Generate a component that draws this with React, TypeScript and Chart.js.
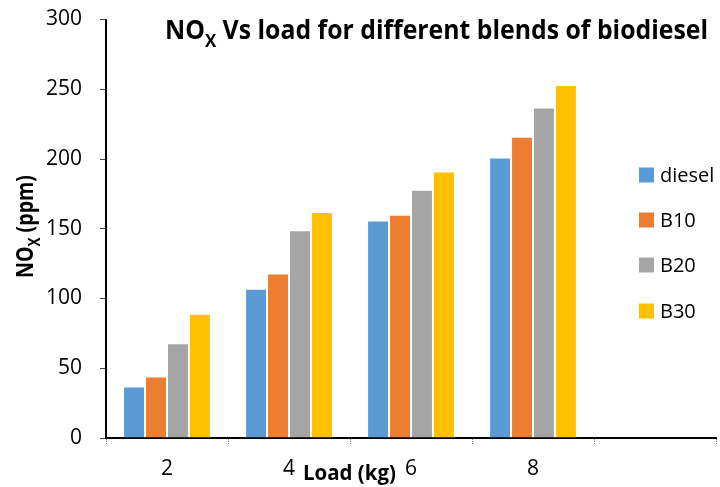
import React, { useEffect, useRef } from 'react';
import { Chart, registerables } from 'chart.js';

Chart.register(...registerables);

const categories = ['2', '4', '6', '8', ''];
const seriesNames = ['diesel', 'B10', 'B20', 'B30'];
const dieselValues = [37, 107, 156, 201, null];
const b10Values = [44, 118, 160, 216, null];
const b20Values = [68, 149, 178, 237, null];
const b30Values = [89, 162, 191, 253, null];
const seriesColors = ['#5B9BD5', '#ED7D31', '#A5A5A5', '#FFC000'];
const yMin = 0;
const yMax = 300;
const yStep = 50;

const FONT = '"Open Sans", "Liberation Sans", sans-serif';

type Part = { text: string; sub?: boolean };

function drawParts(
  ctx: CanvasRenderingContext2D,
  parts: Part[],
  size: number,
  targetWidth: number,
  bold: boolean
) {
  const subSize = size * 0.68;
  const widths = parts.map((p) => {
    ctx.font = `${bold ? 'bold ' : ''}${p.sub ? subSize : size}px ${FONT}`;
    return ctx.measureText(p.text).width;
  });
  const total = widths.reduce((a, b) => a + b, 0);
  const s = targetWidth / total;
  ctx.save();
  ctx.scale(s, 1);
  let cx = 0;
  parts.forEach((p, i) => {
    ctx.font = `${bold ? 'bold ' : ''}${p.sub ? subSize : size}px ${FONT}`;
    ctx.fillText(p.text, cx, p.sub ? size * 0.3 : 0);
    cx += widths[i];
  });
  ctx.restore();
}

const annotationsPlugin = {
  id: 'customText',
  afterDraw(chart: any) {
    const ctx: CanvasRenderingContext2D = chart.ctx;
    ctx.save();
    ctx.fillStyle = '#000';
    ctx.textBaseline = 'alphabetic';
    ctx.textAlign = 'left';

    // Title
    ctx.save();
    ctx.translate(165, 39);
    drawParts(
      ctx,
      [{ text: 'NO' }, { text: 'X', sub: true }, { text: ' Vs load for different blends of biodiesel' }],
      27,
      543,
      true
    );
    ctx.restore();

    // Y title
    ctx.save();
    ctx.translate(33, 278);
    ctx.rotate(-Math.PI / 2);
    drawParts(ctx, [{ text: 'NO' }, { text: 'X', sub: true }, { text: ' (ppm)' }], 23, 103, true);
    ctx.restore();

    // X title
    ctx.save();
    ctx.translate(303, 480);
    drawParts(ctx, [{ text: 'Load (kg)' }], 21, 93, true);
    ctx.restore();

    // Legend
    const legendY = [175, 220, 265, 311];
    seriesNames.forEach((name, i) => {
      ctx.fillStyle = seriesColors[i];
      ctx.fillRect(639, legendY[i] - 7.5, 15, 15);
      ctx.fillStyle = '#000';
      ctx.font = `20px ${FONT}`;
      ctx.textBaseline = 'middle';
      ctx.fillText(name, 660, legendY[i] + 1);
    });
    ctx.restore();
  },
};

export default function App() {
  const canvasRef = useRef<HTMLCanvasElement | null>(null);

  useEffect(() => {
    if (!canvasRef.current) return;
    const allValues = [dieselValues, b10Values, b20Values, b30Values];
    const chart = new Chart(canvasRef.current, {
      type: 'bar',
      data: {
        labels: categories,
        datasets: seriesNames.map((name, i) => ({
          label: name,
          data: allValues[i],
          backgroundColor: seriesColors[i],
          borderColor: 'rgba(255,255,255,0.75)',
          borderWidth: 1,
          categoryPercentage: 0.72,
          barPercentage: 1.0,
        })),
      },
      options: {
        responsive: false,
        animation: false,
        devicePixelRatio: 1,
        layout: { padding: { left: 0, right: 4, top: 19.5, bottom: 0 } },
        plugins: {
          legend: { display: false },
          title: { display: false },
          tooltip: { enabled: false },
        },
        scales: {
          x: {
            offset: true,
            grid: {
              offset: true,
              drawOnChartArea: false,
              drawTicks: true,
              tickLength: 6,
              tickColor: '#888',
              tickBorderDash: [1, 1],
            },
            border: { display: true, color: '#000', width: 2, dash: [2, 1] },
            ticks: {
              color: '#000',
              font: { family: FONT, size: 21 },
              padding: 12,
              maxRotation: 0,
            },
            afterFit(scale: any) {
              scale.height = 49;
              scale.paddingLeft = 0;
              scale.paddingRight = 0;
            },
          },
          y: {
            min: yMin,
            max: yMax,
            grid: {
              drawOnChartArea: false,
              drawTicks: true,
              tickLength: 6,
              tickColor: '#404040',
            },
            border: { display: true, color: '#000', width: 2 },
            ticks: {
              stepSize: yStep,
              color: '#000',
              font: { family: FONT, size: 21 },
              padding: 18,
            },
            afterFit(scale: any) {
              scale.width = 106;
              scale.paddingTop = 0;
              scale.paddingBottom = 0;
            },
          },
        },
      },
      plugins: [annotationsPlugin],
    });
    return () => chart.destroy();
  }, []);

  return (
    <div style={{ position: 'fixed', left: 0, top: 0, width: 720, height: 487, background: '#fff' }}>
      <canvas ref={canvasRef} width={720} height={487} style={{ width: 720, height: 487 }} />
    </div>
  );
}
